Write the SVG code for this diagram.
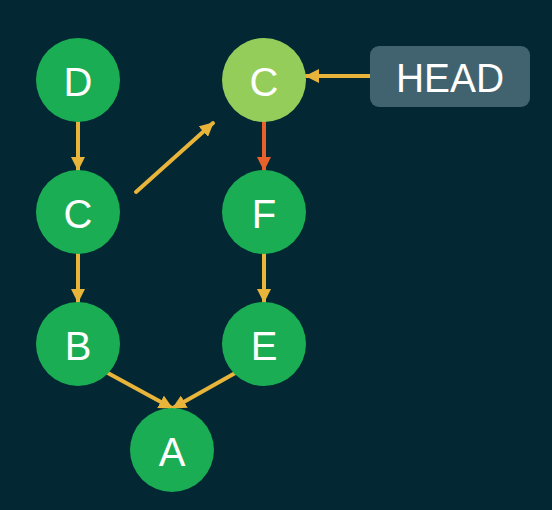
<svg xmlns="http://www.w3.org/2000/svg" width="552" height="510" viewBox="0 0 552 510">
<defs>
<style>
.node{fill:#1bad53}
.head{fill:#95cd5a}
.lbl{fill:#ffffff;font-family:"Liberation Sans",Arial,sans-serif;font-size:40px;text-anchor:middle;dominant-baseline:central}
.edge{stroke:#e8b43a;stroke-width:4;stroke-linecap:round;fill:none}
.edge.red{stroke:#e8612b}
</style>
<marker id="ay" markerUnits="userSpaceOnUse" markerWidth="14" markerHeight="14" viewBox="0 0 14 14" refX="13" refY="7" orient="auto"><path d="M0,0 L14,7 L0,14 Z" fill="#e8b43a"/></marker>
<marker id="ar" markerUnits="userSpaceOnUse" markerWidth="14" markerHeight="14" viewBox="0 0 14 14" refX="13" refY="7" orient="auto"><path d="M0,0 L14,7 L0,14 Z" fill="#e8612b"/></marker>
</defs>
<rect width="552" height="510" fill="#032834"/>
<g id="connectors">
<line class="edge" x1="78" y1="120" x2="78" y2="170" marker-end="url(#ay)"/>
<line class="edge" x1="136" y1="192" x2="213" y2="123" marker-end="url(#ay)"/>
<line class="edge red" x1="264" y1="120" x2="264" y2="170" marker-end="url(#ar)"/>
<line class="edge" x1="78" y1="252" x2="78" y2="302" marker-end="url(#ay)"/>
<line class="edge" x1="264" y1="252" x2="264" y2="302" marker-end="url(#ay)"/>
<line class="edge" x1="106" y1="372" x2="172" y2="408" marker-end="url(#ay)"/>
<line class="edge" x1="237" y1="372" x2="173" y2="408" marker-end="url(#ay)"/>
<line class="edge" x1="372" y1="76" x2="306" y2="76" marker-end="url(#ay)"/>
</g>
<g id="nodeD"><circle class="node" cx="78" cy="80" r="42"/><text class="lbl" x="78" y="82">D</text></g>
<g id="nodeC1"><circle class="node" cx="78" cy="212" r="42"/><text class="lbl" x="78" y="214">C</text></g>
<g id="nodeB"><circle class="node" cx="78" cy="344" r="42"/><text class="lbl" x="78" y="346">B</text></g>
<g id="nodeA"><circle class="node" cx="172" cy="450" r="42"/><text class="lbl" x="172" y="452">A</text></g>
<g id="nodeC2"><circle class="head" cx="264" cy="80" r="42"/><text class="lbl" x="264" y="82">C</text></g>
<g id="nodeF"><circle class="node" cx="264" cy="212" r="42"/><text class="lbl" x="264" y="214">F</text></g>
<g id="nodeE"><circle class="node" cx="264" cy="344" r="42"/><text class="lbl" x="264" y="346">E</text></g>
<g id="HEAD"><rect x="370" y="46" width="160" height="61" rx="9" fill="#41636f"/><text class="lbl" x="450" y="78" textLength="108" lengthAdjust="spacingAndGlyphs">HEAD</text></g>
</svg>
